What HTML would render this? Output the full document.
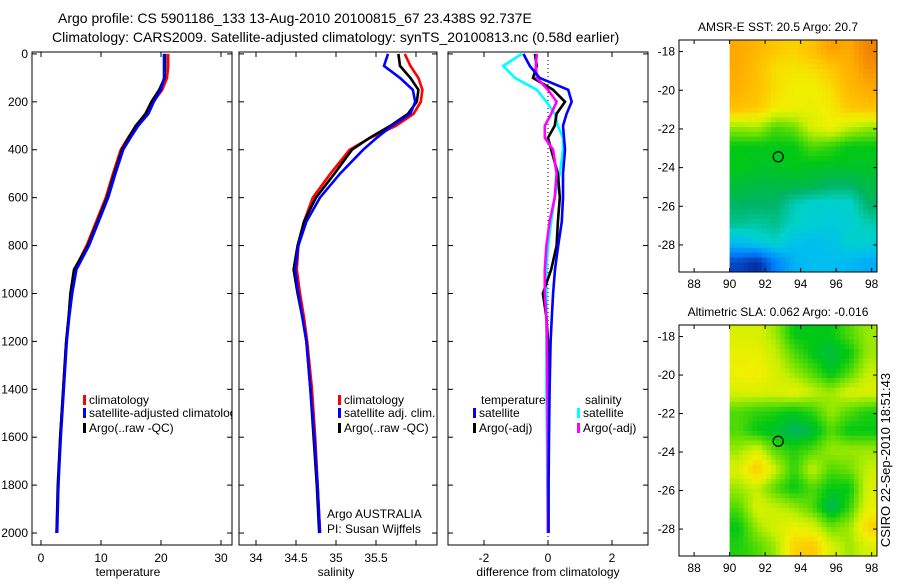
<!DOCTYPE html>
<html><head><meta charset="utf-8"><style>
body{margin:0;background:#fff;}
svg{font-family:"Liberation Sans",sans-serif;}
</style></head><body>
<svg id="c" width="900" height="580" xmlns="http://www.w3.org/2000/svg">
<text x="58" y="23" font-size="14">Argo profile: CS 5901186_133 13-Aug-2010 20100815_67 23.438S 92.737E</text>
<text x="52" y="42" font-size="14">Climatology: CARS2009. Satellite-adjusted climatology: synTS_20100813.nc (0.58d earlier)</text>
<text x="890" y="460" font-size="13" transform="rotate(-90 890 460)" text-anchor="middle">CSIRO 22-Sep-2010 18:51:43</text>
</svg>
<script>
// ---- data ----
const depths=[0,50,100,150,200,250,300,350,400,500,600,700,800,900,1000,1100,1200,1400,1600,1800,2000];
const tempClim=[21.2,21.2,21.0,20.2,18.7,17.6,15.8,14.5,13.3,12.0,10.8,9.2,7.6,5.6,5.0,4.6,4.2,3.7,3.2,2.9,2.6];
const tempSat=[20.5,20.5,20.5,20.0,18.8,17.9,16.2,14.9,13.7,12.4,11.2,9.6,8.0,5.9,5.2,4.7,4.3,3.8,3.3,2.9,2.7];
const tempArgo=[20.7,20.7,20.6,19.7,18.4,17.4,15.8,14.6,13.5,12.2,11.0,9.4,7.8,5.5,4.9,4.6,4.2,3.7,3.2,2.8,2.6];
const salClim=[35.86,35.93,36.03,36.08,36.06,35.97,35.75,35.43,35.17,34.93,34.71,34.6,34.53,34.51,34.55,34.6,34.64,34.7,34.74,34.77,34.8];
const salSat=[35.65,35.6,35.8,35.96,35.99,35.93,35.7,35.51,35.34,35.05,34.8,34.63,34.53,34.49,34.53,34.58,34.63,34.68,34.73,34.77,34.8];
const salArgo=[35.78,35.8,35.93,36.03,36.01,35.9,35.68,35.42,35.2,34.98,34.75,34.6,34.52,34.47,34.52,34.58,34.63,34.68,34.72,34.76,34.79];
const dTempSat=[-0.77,-0.57,-0.26,0.63,0.74,0.58,0.47,0.5,0.53,0.47,0.47,0.43,0.32,0.22,0.16,0.12,0.08,0.05,0.03,0.02,0.02];
const dTempArgo=[-0.41,-0.35,-0.47,0.16,0.53,0.27,0.21,0,0.1,0.31,0.37,0.31,0.27,0.1,-0.16,-0.05,0,0,0,0,0];
const dSalSat=[-0.82,-1.4,-1.03,-0.35,-0.05,0.21,0.31,0.47,0.47,0.37,0.21,0.1,0,-0.05,-0.05,-0.05,-0.05,-0.05,-0.03,-0.02,0];
const dSalArgo=[-0.35,-0.38,-0.35,0,0.27,0.1,-0.1,-0.1,0.16,0.27,0.21,0.05,-0.05,-0.1,-0.1,-0.05,-0.03,-0.02,-0.01,0,0];
const depthTicks=[0,200,400,600,800,1000,1200,1400,1600,1800,2000];
const tempTicks=[0,10,20,30];
const salTicks=[34,34.5,35,35.5,36];
const salTickLabels=["34","34.5","35","35.5",""];
const diffTicks=[-2,0,2];
const lonTicks=[88,90,92,94,96,98];
const latTicks=[-18,-20,-22,-24,-26,-28];
const sstGrid=[
[0.78,0.75,0.7,0.68,0.72,0.8,0.78,0.85],
[0.78,0.72,0.66,0.65,0.66,0.7,0.76,0.82],
[0.76,0.72,0.66,0.63,0.63,0.66,0.74,0.78],
[0.72,0.7,0.64,0.63,0.62,0.64,0.7,0.72],
[0.55,0.56,0.5,0.52,0.6,0.63,0.58,0.55],
[0.45,0.45,0.45,0.45,0.5,0.48,0.45,0.45],
[0.45,0.44,0.44,0.45,0.44,0.44,0.44,0.44],
[0.43,0.42,0.42,0.42,0.42,0.4,0.4,0.42],
[0.4,0.4,0.4,0.36,0.34,0.34,0.34,0.4],
[0.38,0.37,0.38,0.35,0.34,0.33,0.34,0.36],
[0.3,0.33,0.35,0.31,0.3,0.31,0.34,0.34],
[0.12,0.08,0.2,0.28,0.3,0.3,0.29,0.27]];
const slaGrid=[
[0.6,0.6,0.55,0.45,0.45,0.45,0.5,0.55],
[0.62,0.62,0.58,0.5,0.45,0.42,0.45,0.55],
[0.63,0.64,0.6,0.55,0.5,0.44,0.5,0.58],
[0.6,0.6,0.6,0.62,0.58,0.55,0.6,0.6],
[0.5,0.48,0.47,0.45,0.48,0.55,0.5,0.47],
[0.5,0.45,0.43,0.4,0.42,0.5,0.45,0.45],
[0.55,0.6,0.5,0.47,0.5,0.55,0.55,0.55],
[0.6,0.7,0.58,0.48,0.58,0.5,0.52,0.58],
[0.55,0.58,0.5,0.45,0.5,0.45,0.45,0.6],
[0.5,0.6,0.58,0.55,0.5,0.4,0.48,0.62],
[0.45,0.55,0.6,0.62,0.6,0.52,0.55,0.68],
[0.47,0.5,0.55,0.68,0.7,0.6,0.55,0.6]];
const profileLon=[92.737];
const profileLat=[-23.438];

// ---- drawing ----
const svg=document.getElementById('c');
const NS='http://www.w3.org/2000/svg';
function mk(tag,attrs,parent){const e=document.createElementNS(NS,tag);for(const k in attrs)e.setAttribute(k,attrs[k]);(parent||svg).appendChild(e);return e;}
const Y0=52,Y1=545,D0=-8,D1=2050;
const yD=d=>Y0+(d-D0)/(D1-D0)*(Y1-Y0);
const panels=[
 {x0:32,x1:232,v0:-1.5,v1:31.83,ticks:tempTicks,labels:tempTicks.map(String),name:'temperature',lx:128},
 {x0:239,x1:437,v0:33.7875,v1:36.2625,ticks:salTicks,labels:salTickLabels,name:'salinity',lx:336},
 {x0:448,x1:648,v0:-3.125,v1:3.125,ticks:diffTicks,labels:diffTicks.map(String),name:'difference from climatology',lx:548}];
panels.forEach((p,i)=>{p.xs=v=>p.x0+(v-p.v0)/(p.v1-p.v0)*(p.x1-p.x0);
 const g=mk('g',{});
 
 
 p.g=g;
 const cp=mk('clipPath',{id:'cp'+i},g);mk('rect',{x:p.x0,y:Y0,width:p.x1-p.x0,height:Y1-Y0},cp);
 p.ticks.forEach((t,j)=>{const x=p.xs(t);
  mk('line',{x1:x,x2:x,y1:Y1,y2:Y1-5,stroke:'#000'},g);mk('line',{x1:x,x2:x,y1:Y0,y2:Y0+5,stroke:'#000'},g);
  const tl=mk('text',{x:x,y:Y1+17,'font-size':12,'text-anchor':'middle'},g);tl.textContent=p.labels[j];
  
  });
 depthTicks.forEach(d=>{const y=yD(d);
  mk('line',{x1:p.x0,x2:p.x0+5,y1:y,y2:y,stroke:'#000'},g);mk('line',{x1:p.x1,x2:p.x1-5,y1:y,y2:y,stroke:'#000'},g);
  if(i==0){const t=mk('text',{x:p.x0-4,y:y+4,'font-size':12,'text-anchor':'end'},g);t.textContent=d;
   
   }});
 const xl=mk('text',{x:p.lx,y:576,'font-size':12,'text-anchor':'middle'},g);xl.textContent=p.name;
 
 
});
function series(p,vals,col,name){const pts=vals.map((v,k)=>p.xs(v).toFixed(1)+','+yD(depths[k]).toFixed(1)).join(' ');
 const l=mk('polyline',{points:pts,fill:'none',stroke:col,'stroke-width':2.6,'clip-path':'url(#cp'+panels.indexOf(p)+')'},p.g);
 
 }
{const p=panels[2];const x=p.xs(0);const z=mk('line',{x1:x,x2:x,y1:Y0,y2:Y1,stroke:'#000','stroke-dasharray':'1,3'},p.g);
 
 }
series(panels[0],tempClim,'#f00','temp-climatology-line');
series(panels[0],tempArgo,'#000','temp-argo-line');
series(panels[0],tempSat,'#00f','temp-satellite-line');
series(panels[1],salClim,'#f00','sal-climatology-line');
series(panels[1],salArgo,'#000','sal-argo-line');
series(panels[1],salSat,'#00f','sal-satellite-line');
series(panels[2],dSalSat,'#0ff','diff-sal-satellite-line');
series(panels[2],dTempArgo,'#000','diff-temp-argo-line');
series(panels[2],dSalArgo,'#f0f','diff-sal-argo-line');
series(panels[2],dTempSat,'#00f','diff-temp-satellite-line');
panels.forEach(p=>mk('rect',{x:p.x0,y:Y0,width:p.x1-p.x0,height:Y1-Y0,fill:'none',stroke:'#000'},p.g));
function legend(p,x,y,col,txt,i){mk('rect',{x:x,y:y-9,width:3,height:10,fill:col},p.g);
 const t=mk('text',{x:x+6,y:y,'font-size':12,'clip-path':'url(#cp'+i+')'},p.g);t.textContent=txt;
 
 }
legend(panels[0],83,404,'#f00','climatology',0);
legend(panels[0],83,417,'#00f','satellite-adjusted climatology',0);
legend(panels[0],83,432,'#000','Argo(..raw -QC)',0);
legend(panels[1],338,404,'#f00','climatology',1);
legend(panels[1],338,417,'#00f','satellite adj. clim.',1);
legend(panels[1],338,432,'#000','Argo(..raw -QC)',1);
{const g=panels[2].g;const a=mk('text',{x:481,y:404,'font-size':12},g);a.textContent='temperature';
 const b=mk('text',{x:585,y:404,'font-size':12},g);b.textContent='salinity';}
legend(panels[2],473,417,'#00f','satellite',2);
legend(panels[2],473,432,'#000','Argo(-adj)',2);
legend(panels[2],577,417,'#0ff','satellite',2);
legend(panels[2],577,432,'#f0f','Argo(-adj)',2);
{const g=panels[1].g;const a=mk('text',{x:327,y:518,'font-size':12},g);a.textContent='Argo AUSTRALIA';
 const b=mk('text',{x:327,y:533,'font-size':12},g);b.textContent='PI: Susan Wijffels';}
const stops=[[0,[0,0,120]],[0.05,[10,20,140]],[0.2,[0,130,255]],[0.3,[0,190,240]],[0.35,[0,210,200]],[0.4,[0,180,100]],[0.45,[0,200,20]],[0.52,[110,225,0]],[0.58,[200,240,0]],[0.63,[240,240,0]],[0.7,[255,200,0]],[0.78,[255,170,0]],[0.85,[240,130,0]],[1,[200,60,0]]];
function cmap(v){for(let i=1;i<stops.length;i++){if(v<=stops[i][0]){const a=stops[i-1],b=stops[i],t=(v-a[0])/(b[0]-a[0]);
 return 'rgb('+a[1].map((c,k)=>Math.round(c+(b[1][k]-c)*t)).join(',')+')';}}return 'rgb(200,60,0)';}
function sample(grid,r,c){const R=grid.length,C=grid[0].length;
 r=Math.max(0,Math.min(R-1,r));c=Math.max(0,Math.min(C-1,c));
 const r0=Math.floor(r),c0=Math.floor(c),r1=Math.min(R-1,r0+1),c1=Math.min(C-1,c0+1),fr=r-r0,fc=c-c0;
 return grid[r0][c0]*(1-fr)*(1-fc)+grid[r0][c1]*(1-fr)*fc+grid[r1][c0]*fr*(1-fc)+grid[r1][c1]*fr*fc;}
function map(top,bottom,grid,title,name){
 const x0=679,x1=877,L0=87.15,L1=98.3,A0=-17.4,A1=-29.4;
 const xs=l=>x0+(l-L0)/(L1-L0)*(x1-x0), ys=a=>top+(a-A0)/(A1-A0)*(bottom-top);
 const g=mk('g',{});
 
 
 const rows=grid.length,cols=grid[0].length,S=4,lonW=(L1-90)/cols/S,latH=(A1-A0)/rows/S;
 for(let i=0;i<rows*S;i++)for(let j=0;j<cols*S;j++){
  const v=sample(grid,(i+0.5)/S-0.5,(j+0.5)/S-0.5);
  const xa=xs(90+j*lonW),xb=xs(90+(j+1)*lonW),ya=ys(A0+i*latH),yb=ys(A0+(i+1)*latH);
  const c=mk('rect',{x:xa,y:ya,width:xb-xa+0.5,height:yb-ya+0.5,fill:cmap(v)},g);
  
  }
 mk('rect',{x:x0,y:top,width:x1-x0,height:bottom-top,fill:'none',stroke:'#000'},g);
 lonTicks.forEach(l=>{const x=xs(l);mk('line',{x1:x,x2:x,y1:bottom,y2:bottom-4,stroke:'#000'},g);mk('line',{x1:x,x2:x,y1:top,y2:top+4,stroke:'#000'},g);
  const t=mk('text',{x:x,y:bottom+16,'font-size':12,'text-anchor':'middle'},g);t.textContent=l;});
 latTicks.forEach(a=>{const y=ys(a);mk('line',{x1:x0,x2:x0+4,y1:y,y2:y,stroke:'#000'},g);mk('line',{x1:x1,x2:x1-4,y1:y,y2:y,stroke:'#000'},g);
  const t=mk('text',{x:x0-4,y:y+4,'font-size':12,'text-anchor':'end'},g);t.textContent=a;});
 const tt=mk('text',{x:(x0+x1)/2,y:top-9,'font-size':12,'text-anchor':'middle'},g);tt.textContent=title;
 
 
 const c=mk('circle',{cx:xs(profileLon[0]),cy:ys(profileLat[0]),r:5,fill:'none',stroke:'#000','stroke-width':1.2},g);
 
 
}
map(40,272,sstGrid,'AMSR-E SST: 20.5 Argo: 20.7','sst-map');
map(325,556,slaGrid,'Altimetric SLA: 0.062 Argo: -0.016','sla-map');
</script>
</body></html>
